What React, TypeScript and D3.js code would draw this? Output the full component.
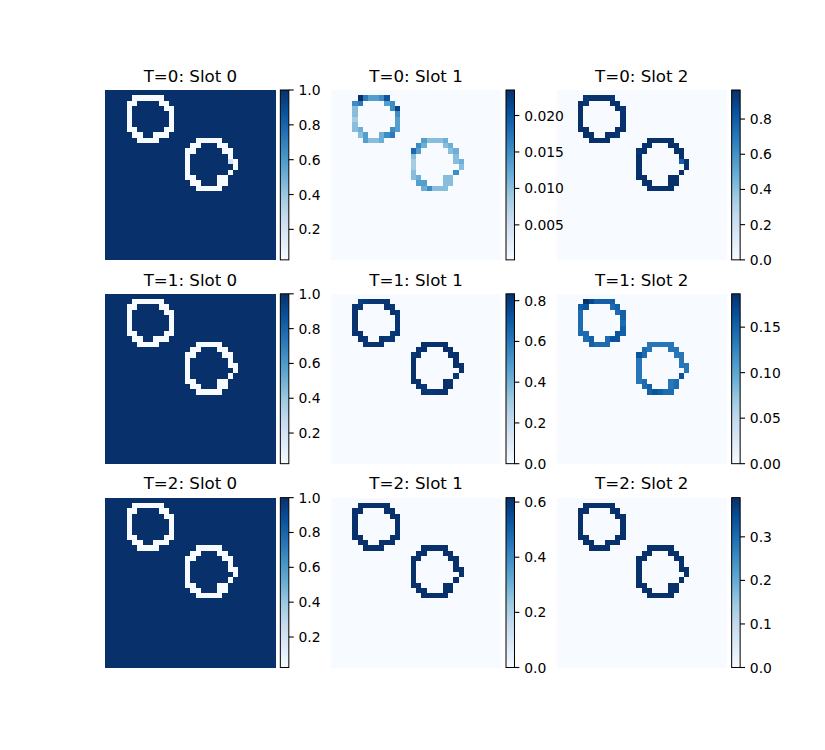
import * as d3 from "d3";

const W = 825;
const H = 750;
const GRID = 32;

// matplotlib "Blues" colormap anchors
const BLUES = ["#f7fbff", "#deebf7", "#c6dbef", "#9ecae1", "#6baed6", "#4292c6", "#2171b5", "#08519c", "#08306b"];

// '#' marks a cell of one of the two rings (rows 0..18, rest is background)
const ringMask = [
  "",
  ".....######",
  "....##....##",
  "....#......##",
  "....#.......#",
  "....#.......#",
  "....#.......#",
  "....##.....##",
  ".....##..###",
  "......####.......#####",
  "................##...##",
  "...............##.....##",
  "...............#.......#",
  "...............#.......##",
  "...............#........#",
  "...............#.......#",
  "...............##....##",
  "................##...##",
  ".................#####",
];

const titles = [
  "T=0: Slot 0", "T=0: Slot 1", "T=0: Slot 2",
  "T=1: Slot 0", "T=1: Slot 1", "T=1: Slot 2",
  "T=2: Slot 0", "T=2: Slot 1", "T=2: Slot 2",
];

const bgValues = [1.0, 0.0002, 0.0, 1.0, 0.0, 0.0, 1.0, 0.0, 0.0];
const ringLow = [0.025, 0.0085, 0.79, 0.024, 0.785, 0.11, 0.025, 0.6, 0.37];
const ringHigh = [0.2, 0.0235, 0.965, 0.024, 0.858, 0.1866, 0.025, 0.616, 0.39];

// ring cell shades, 0 = ringLow .. 9 = ringHigh, row by row
const ringShades = [
  "000000 0000 000 00 00 00 0000 00000 000000000 0000 0000 00 090 00 00 0000 0000 00000",
  "953347 4534 148 14 03 13 1243 13245 311231112 4212 6312 11 012 01 14 1211 3311 24111",
  "899998 9899 998 99 99 99 9999 99998 999999999 9999 8999 99 909 99 99 9999 9999 99999",
  "000000 0000 000 00 00 00 0000 00000 000000000 0000 0000 00 000 00 00 0000 0000 00000",
  "024444 4354 554 54 55 54 5534 54533 455566666 5666 3566 66 666 66 63 6565 5465 43455",
  "975555 5645 445 45 44 45 4465 45466 544433333 4333 6433 33 333 33 36 3434 4534 56544",
  "000000 0000 000 00 00 00 0000 00000 000000000 0000 0000 00 000 00 00 0000 0000 00000",
  "999999 9999 999 99 99 99 9999 99999 999999999 9999 9999 99 999 99 99 9999 9999 99999",
  "999999 9999 999 99 99 99 9999 99999 999999999 9999 9999 99 999 99 99 9999 9999 99999",
];

const cbTicks = [
  ["0.2", "0.4", "0.6", "0.8", "1.0"],
  ["0.005", "0.010", "0.015", "0.020"],
  ["0.0", "0.2", "0.4", "0.6", "0.8"],
  ["0.2", "0.4", "0.6", "0.8", "1.0"],
  ["0.0", "0.2", "0.4", "0.6", "0.8"],
  ["0.00", "0.05", "0.10", "0.15"],
  ["0.2", "0.4", "0.6", "0.8", "1.0"],
  ["0.0", "0.2", "0.4", "0.6"],
  ["0.0", "0.1", "0.2", "0.3"],
];

const FONT = "DejaVu Sans, sans-serif";

const blues = d3
  .scaleLinear<string>()
  .domain(BLUES.map((_, i) => i / (BLUES.length - 1)))
  .range(BLUES)
  .interpolate(d3.interpolateRgb)
  .clamp(true);

// subplot geometry (matplotlib defaults + colorbar divider)
const figL = 0.125 * W;
const figR = 0.9 * W;
const figT = (1 - 0.88) * H;
const figB = (1 - 0.11) * H;
const cellW = (figR - figL) / 3.4;
const cellH = (figB - figT) / 3.4;
const PAD = 5;
const S = Math.min(cellH, (cellW - PAD) / 1.05);
const cbW = 0.05 * S;
const groupW = S + PAD + cbW;

const ringCells: [number, number][] = [];
ringMask.forEach((row, r) => {
  row.split("").forEach((ch, c) => {
    if (ch === "#") ringCells.push([r, c]);
  });
});

function panelGrid(k: number) {
  const shades = ringShades[k].replace(/ /g, "");
  const grid: number[][] = d3.range(GRID).map(() => d3.range(GRID).map(() => bgValues[k]));
  ringCells.forEach(([r, c], i) => {
    const d = +shades[i];
    grid[r][c] = ringLow[k] + ((ringHigh[k] - ringLow[k]) * d) / 9;
  });
  return grid;
}

function layout(k: number) {
  const i = Math.floor(k / 3);
  const j = k % 3;
  const left = figL + j * cellW * 1.2 + (cellW - groupW) / 2;
  const top = figT + i * cellH * 1.2 + (cellH - S) / 2;
  const grid = panelGrid(k);
  const [vmin, vmax] = d3.extent(grid.flat()) as [number, number];
  return { left, top, grid, vmin, vmax };
}

const panels = titles.map((_, k) => layout(k));

const Image = ({ k }: { k: number }) => {
  const { left, top, grid, vmin, vmax } = panels[k];
  const x = d3.scaleBand<number>().domain(d3.range(GRID)).range([left, left + S]);
  const y = d3.scaleBand<number>().domain(d3.range(GRID)).range([top, top + S]);
  const norm = d3.scaleLinear().domain([vmin, vmax]).range([0, 1]);
  return (
    <g>
      <text x={left + S / 2} y={top - 8.3} textAnchor="middle" fontSize={16.67} fontFamily={FONT}>
        {titles[k]}
      </text>
      <g shapeRendering="crispEdges">
        {grid.map((row, r) =>
          row.map((v, c) => (
            <rect
              key={`${r}-${c}`}
              x={x(c)!}
              y={y(r)!}
              width={x.bandwidth() + 0.3}
              height={y.bandwidth() + 0.3}
              fill={blues(norm(v))}
            />
          ))
        )}
      </g>
    </g>
  );
};

const Colorbar = ({ k }: { k: number }) => {
  const { left, top, vmin, vmax } = panels[k];
  const cbX = left + S + PAD;
  const cbY = d3.scaleLinear().domain([vmin, vmax]).range([top + S, top]);
  return (
    <g>
      <rect x={cbX} y={top} width={cbW} height={S} fill="url(#bluesGrad)" />
      <rect x={cbX} y={top} width={cbW} height={S} fill="none" stroke="#000" strokeWidth={1} />
      {cbTicks[k].map((lab) => {
        const ty = cbY(+lab);
        return (
          <g key={lab}>
            <line x1={cbX + cbW} x2={cbX + cbW + 4.9} y1={ty} y2={ty} stroke="#000" strokeWidth={1.1} />
            <text x={cbX + cbW + 9.7} y={ty} dominantBaseline="central" fontSize={13.9} fontFamily={FONT}>
              {lab}
            </text>
          </g>
        );
      })}
    </g>
  );
};

export default function App() {
  return (
    <svg width={W} height={H} style={{ position: "absolute", left: 0, top: 0, background: "#fff" }}>
      <defs>
        <linearGradient id="bluesGrad" x1="0" y1="1" x2="0" y2="0">
          {BLUES.map((col, i) => (
            <stop key={i} offset={i / (BLUES.length - 1)} stopColor={col} />
          ))}
        </linearGradient>
      </defs>
      <rect width={W} height={H} fill="#fff" />
      {titles.map((_, k) => (
        <Image key={`img${k}`} k={k} />
      ))}
      {titles.map((_, k) => (
        <Colorbar key={`cb${k}`} k={k} />
      ))}
    </svg>
  );
}
